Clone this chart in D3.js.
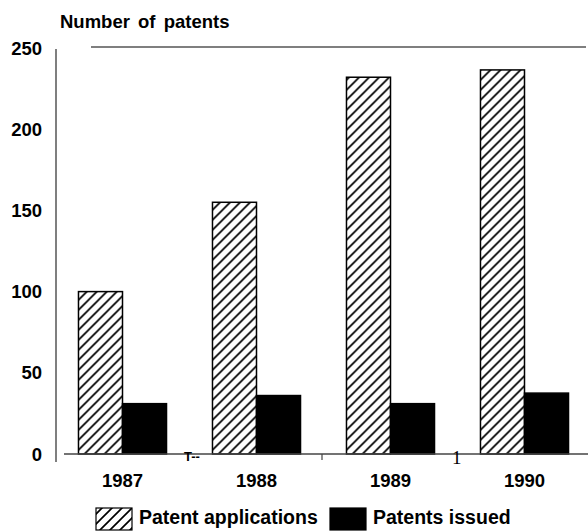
<!DOCTYPE html>
<html>
<head>
<meta charset="utf-8">
<script src="https://cdn.jsdelivr.net/npm/d3@7"></script>
<style>
    body { margin: 0; background: #fff; }
    svg text { font-family: "Liberation Sans", Arial, sans-serif; font-weight: bold; fill: #000; }
</style>
</head>
<body>
<svg id="chart" width="588" height="531"></svg>
<script>
const years = ['1987', '1988', '1989', '1990']
const series = ['Patent applications', 'Patents issued']
const applications = [100, 155, 232, 236.5]
const issued = [31, 36, 31, 37.5]
const yTicks = [0, 50, 100, 150, 200, 250]

const svg = d3.select('#chart')

const x = d3.scaleBand()
    .domain(years)
    .range([55.5, 591.5])
    .paddingInner(0.343)
    .paddingOuter(0.1715)

const xSeries = d3.scaleBand()
    .domain(series)
    .range([0, x.bandwidth()])

const y = d3.scaleLinear()
    .domain([0, 250])
    .range([454, 48])

// hatch for the applications bars
const defs = svg.append('defs')
defs.append('pattern')
    .attr('id', 'hatch')
    .attr('patternUnits', 'userSpaceOnUse')
    .attr('width', 10)
    .attr('height', 10)
  .append('path')
    .attr('d', 'M-2.5,2.5 L2.5,-2.5 M0,10 L10,0 M7.5,12.5 L12.5,7.5')
    .attr('stroke', '#000')
    .attr('stroke-width', 1.7)

const fills = {'Patent applications': 'url(#hatch)', 'Patents issued': '#000'}

// frame lines
svg.append('line')
    .attr('x1', 56).attr('x2', 56)
    .attr('y1', y(250) + 1).attr('y2', y(0) + 8)
    .attr('stroke', '#555').attr('stroke-width', 1.5)

svg.append('line')
    .attr('x1', 91).attr('x2', 586)
    .attr('y1', y(250) - 1).attr('y2', y(250) - 1)
    .attr('stroke', '#555').attr('stroke-width', 1.4)

// y tick labels
svg.append('g')
    .selectAll('text')
    .data(yTicks)
    .join('text')
    .attr('x', 42)
    .attr('y', d => y(d))
    .attr('dy', '0.36em')
    .attr('text-anchor', 'end')
    .attr('font-size', 18.5)
    .text(d => d)

svg.append('text')
    .attr('x', 60)
    .attr('y', 27.5)
    .attr('font-size', 18.5)
    .attr('word-spacing', 3)
    .text('Number of patents')

// bars
const rows = years.map((yr, i) => ({year: yr, values: [
    {key: series[0], value: applications[i]},
    {key: series[1], value: issued[i]}
]}))

const groups = svg.append('g')
    .selectAll('g')
    .data(rows)
    .join('g')
    .attr('transform', d => `translate(${x(d.year)},0)`)

groups.selectAll('rect')
    .data(d => d.values)
    .join('rect')
    .attr('x', d => xSeries(d.key))
    .attr('y', d => y(d.value))
    .attr('width', xSeries.bandwidth())
    .attr('height', d => y(0) - y(d.value))
    .attr('fill', d => fills[d.key])
    .attr('stroke', '#000')
    .attr('stroke-width', 1.5)

// baseline, with the scan marks on it
svg.append('line')
    .attr('x1', 64).attr('x2', 588)
    .attr('y1', y(0)).attr('y2', y(0))
    .attr('stroke', '#444').attr('stroke-width', 1.5)

svg.append('line')
    .attr('x1', 322).attr('x2', 322)
    .attr('y1', y(0)).attr('y2', y(0) + 6)
    .attr('stroke', '#444').attr('stroke-width', 1.2)

svg.append('text')
    .attr('x', 184).attr('y', y(0) + 7)
    .attr('font-size', 13)
    .text('T--')

svg.append('text')
    .attr('x', 452).attr('y', y(0) + 10)
    .attr('font-size', 19)
    .style('font-family', '"Liberation Serif", serif')
    .style('font-weight', 'normal')
    .text('1')

// year labels
svg.append('g')
    .selectAll('text')
    .data(years)
    .join('text')
    .attr('x', d => x(d) + x.bandwidth() / 2)
    .attr('y', 486.5)
    .attr('text-anchor', 'middle')
    .attr('font-size', 18.5)
    .text(d => d)

// legend
const legend = svg.append('g')
const legendX = [96, 330]
series.forEach((s, i) => {
    legend.append('rect')
        .attr('x', legendX[i]).attr('y', 508)
        .attr('width', 36).attr('height', 22)
        .attr('fill', fills[s])
        .attr('stroke', '#000').attr('stroke-width', 1.2)
    legend.append('text')
        .attr('x', legendX[i] + 43).attr('y', 523.5)
        .attr('font-size', 19.5)
        .text(s)
})
</script>
</body>
</html>
